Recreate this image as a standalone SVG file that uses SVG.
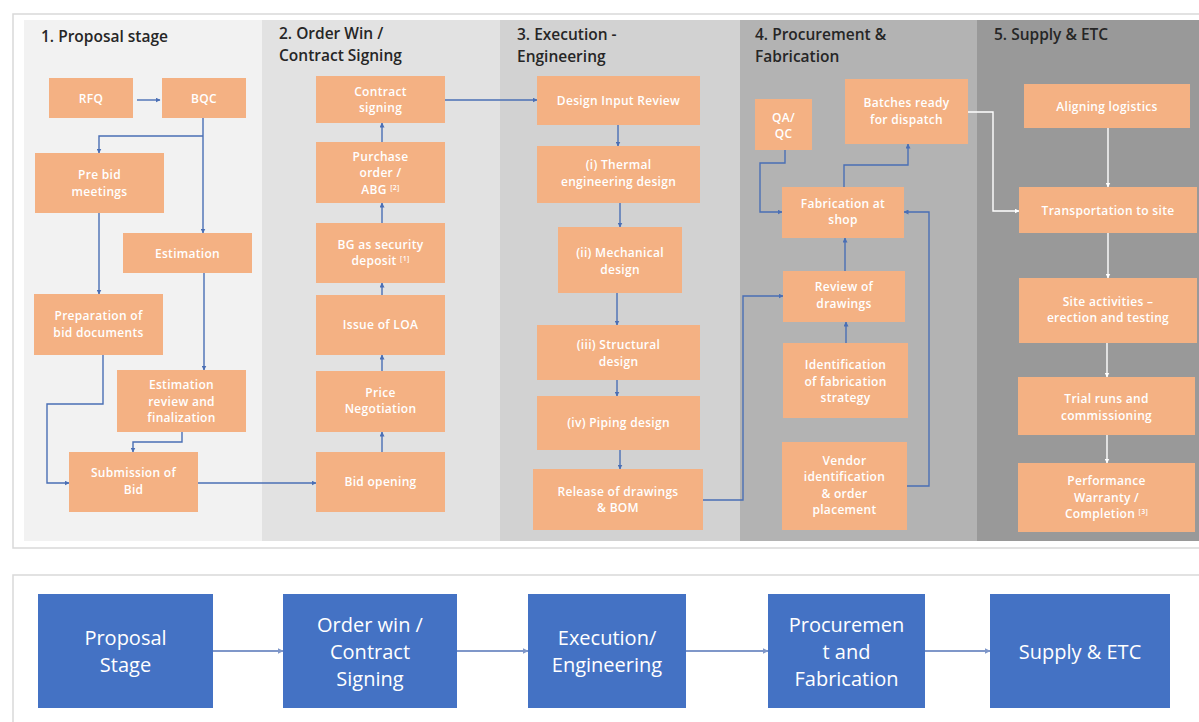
<svg xmlns="http://www.w3.org/2000/svg" width="1199" height="722" viewBox="0 0 1199 722">
<defs>
<marker id="ab" viewBox="0 0 10 10" refX="9" refY="5" markerWidth="5" markerHeight="5" orient="auto" markerUnits="userSpaceOnUse"><path d="M0,0 L10,5 L0,10 z" fill="#4a6fb5"/></marker>
<marker id="aw" viewBox="0 0 10 10" refX="9" refY="5" markerWidth="5" markerHeight="5" orient="auto" markerUnits="userSpaceOnUse"><path d="M0,0 L10,5 L0,10 z" fill="#ffffff"/></marker>
<marker id="ag" viewBox="0 0 10 10" refX="9" refY="5" markerWidth="6" markerHeight="6" orient="auto" markerUnits="userSpaceOnUse"><path d="M0,0 L10,5 L0,10 z" fill="#7f97c9"/></marker>
<style>
.n rect{fill:#f4b183}
.n text{fill:#ffffff;font-family:"Open Sans","Liberation Sans",sans-serif;font-size:12px;font-weight:600;text-anchor:middle;letter-spacing:0.3px}
.t{fill:#262626;font-family:"Open Sans","Liberation Sans",sans-serif;font-size:15.5px;font-weight:600}
.c path{fill:none;stroke:#4a6fb5;stroke-width:1.4;marker-end:url(#ab)}
.c path.w{stroke:#ffffff;marker-end:url(#aw)}
.c path.g{stroke:#7f97c9;stroke-width:1.8;marker-end:url(#ag)}
.b rect{fill:#4472c4}
.b text{fill:#ffffff;font-family:"Open Sans","Liberation Sans",sans-serif;font-size:20px;text-anchor:middle}
sup{font-size:7px}
</style>
</defs>
<rect width="1199" height="722" fill="#ffffff"/>
<!-- top panel -->
<rect x="13" y="14" width="1200" height="534" fill="#ffffff" stroke="#d9d9d9" stroke-width="1.5"/>
<rect x="24" y="20" width="238" height="521" fill="#f2f2f2"/>
<rect x="262" y="20" width="238" height="521" fill="#e2e2e2"/>
<rect x="500" y="20" width="240" height="521" fill="#d2d2d2"/>
<rect x="740" y="20" width="237" height="521" fill="#b3b3b3"/>
<rect x="977" y="20" width="222" height="521" fill="#999999"/>
<text class="t" x="41" y="42">1. Proposal stage</text>
<text class="t" x="279" y="39">2. Order Win /</text>
<text class="t" x="279" y="61">Contract Signing</text>
<text class="t" x="517" y="40">3. Execution -</text>
<text class="t" x="517" y="62">Engineering</text>
<text class="t" x="755" y="40">4. Procurement &amp;</text>
<text class="t" x="755" y="62">Fabrication</text>
<text class="t" x="994" y="40">5. Supply &amp; ETC</text>

<g class="c" id="connectors">
<path d="M137,100 H160"/>
<path d="M203,118 V233"/>
<path d="M203,136 H99 V153"/>
<path d="M99,213 V294"/>
<path d="M204,273 V370"/>
<path d="M103,355 V404 H47 V483 H69"/>
<path d="M182,432 V442 H133 V452"/>
<path d="M198,483 H316"/>
<path d="M382,452 V432"/>
<path d="M382,371 V355"/>
<path d="M382,295 V283"/>
<path d="M382,223 V203"/>
<path d="M382,142 V123"/>
<path d="M445,100 H537"/>
<path d="M618,125 V146"/>
<path d="M620,203 V227"/>
<path d="M617,293 V325"/>
<path d="M617,380 V396"/>
<path d="M620,450 V469"/>
<path d="M703,500 H743 V296 H783"/>
<path d="M785,150 V163 H760 V212 H782"/>
<path d="M844,187 V165 H908 V144"/>
<path d="M845,271 V238"/>
<path d="M846,343 V322"/>
<path d="M907,486 H929 V212 H904"/>
<path class="w" d="M968,112 H993 V211 H1019"/>
<path class="w" d="M1108,128 V187"/>
<path class="w" d="M1108,233 V278"/>
<path class="w" d="M1107,343 V377"/>
<path class="w" d="M1107,435 V463"/>
<path class="g" d="M213,651 H283"/>
<path class="g" d="M457,651 H528"/>
<path class="g" d="M686,651 H768"/>
<path class="g" d="M925,651 H990"/>
</g>

<g class="n" id="rfq"><rect x="49" y="78" width="84" height="40"/><text x="91" y="102.5">RFQ</text></g>
<g class="n" id="bqc"><rect x="162" y="78" width="84" height="40"/><text x="204" y="102.5">BQC</text></g>
<g class="n" id="prebid"><rect x="35" y="153" width="129" height="60"/><text x="99.5" y="179">Pre bid</text><text x="99.5" y="196">meetings</text></g>
<g class="n" id="estimation"><rect x="123" y="233" width="129" height="40"/><text x="187.5" y="257.5">Estimation</text></g>
<g class="n" id="preparation"><rect x="34" y="294" width="129" height="61"/><text x="98.5" y="320">Preparation of</text><text x="98.5" y="337">bid documents</text></g>
<g class="n" id="estreview"><rect x="117" y="370" width="129" height="62"/><text x="181.5" y="389">Estimation</text><text x="181.5" y="405.5">review and</text><text x="181.5" y="422">finalization</text></g>
<g class="n" id="submission"><rect x="69" y="452" width="129" height="60"/><text x="133.5" y="477">Submission of</text><text x="133.5" y="494">Bid</text></g>

<g class="n" id="contract"><rect x="316" y="76" width="129" height="47"/><text x="380.5" y="96">Contract</text><text x="380.5" y="112">signing</text></g>
<g class="n" id="purchase"><rect x="316" y="142" width="129" height="61"/><text x="380.5" y="161">Purchase</text><text x="380.5" y="177">order /</text><text x="380.5" y="194">ABG <tspan font-size="7" dy="-4">[2]</tspan></text></g>
<g class="n" id="bg"><rect x="316" y="223" width="129" height="60"/><text x="380.5" y="249">BG as security</text><text x="380.5" y="265">deposit <tspan font-size="7" dy="-4">[1]</tspan></text></g>
<g class="n" id="loa"><rect x="316" y="295" width="129" height="60"/><text x="380.5" y="329">Issue of LOA</text></g>
<g class="n" id="price"><rect x="316" y="371" width="129" height="61"/><text x="380.5" y="397">Price</text><text x="380.5" y="413">Negotiation</text></g>
<g class="n" id="bidopening"><rect x="316" y="452" width="129" height="60"/><text x="380.5" y="486">Bid opening</text></g>

<g class="n" id="designinput"><rect x="537" y="76" width="163" height="49"/><text x="618.5" y="105">Design Input Review</text></g>
<g class="n" id="thermal"><rect x="537" y="146" width="163" height="57"/><text x="618.5" y="169">(i) Thermal</text><text x="618.5" y="186">engineering design</text></g>
<g class="n" id="mechanical"><rect x="558" y="227" width="124" height="66"/><text x="620" y="257">(ii) Mechanical</text><text x="620" y="274">design</text></g>
<g class="n" id="structural"><rect x="537" y="325" width="163" height="55"/><text x="618.5" y="349">(iii) Structural</text><text x="618.5" y="366">design</text></g>
<g class="n" id="piping"><rect x="537" y="396" width="163" height="54"/><text x="618.5" y="426.5">(iv) Piping design</text></g>
<g class="n" id="release"><rect x="533" y="469" width="170" height="61"/><text x="618" y="496">Release of drawings</text><text x="618" y="512">&amp; BOM</text></g>

<g class="n" id="qaqc"><rect x="755" y="99" width="57" height="51"/><text x="783.5" y="122">QA/</text><text x="783.5" y="138">QC</text></g>
<g class="n" id="batches"><rect x="845" y="79" width="123" height="65"/><text x="906.5" y="107">Batches ready</text><text x="906.5" y="124">for dispatch</text></g>
<g class="n" id="fabrication"><rect x="782" y="187" width="122" height="51"/><text x="843" y="208">Fabrication at</text><text x="843" y="224">shop</text></g>
<g class="n" id="reviewdrawings"><rect x="783" y="271" width="122" height="51"/><text x="844" y="291">Review of</text><text x="844" y="308">drawings</text></g>
<g class="n" id="identification"><rect x="783" y="343" width="125" height="75"/><text x="845.5" y="369">Identification</text><text x="845.5" y="386">of fabrication</text><text x="845.5" y="402">strategy</text></g>
<g class="n" id="vendor"><rect x="782" y="442" width="125" height="88"/><text x="844.5" y="465">Vendor</text><text x="844.5" y="481">identification</text><text x="844.5" y="498">&amp; order</text><text x="844.5" y="514">placement</text></g>

<g class="n" id="aligning"><rect x="1024" y="84" width="166" height="44"/><text x="1107" y="111">Aligning logistics</text></g>
<g class="n" id="transport"><rect x="1019" y="187" width="178" height="46"/><text x="1108" y="215">Transportation to site</text></g>
<g class="n" id="site"><rect x="1019" y="278" width="178" height="65"/><text x="1108" y="306">Site activities –</text><text x="1108" y="322">erection and testing</text></g>
<g class="n" id="trial"><rect x="1018" y="377" width="177" height="58"/><text x="1106.5" y="403">Trial runs and</text><text x="1106.5" y="420">commissioning</text></g>
<g class="n" id="performance"><rect x="1018" y="463" width="177" height="69"/><text x="1106.5" y="485">Performance</text><text x="1106.5" y="502">Warranty /</text><text x="1106.5" y="518">Completion <tspan font-size="7" dy="-4">[3]</tspan></text></g>

<!-- bottom panel -->
<rect x="13" y="575" width="1200" height="160" fill="none" stroke="#d9d9d9" stroke-width="1.5"/>
<g class="b" id="b1"><rect x="38" y="594" width="175" height="114"/><text x="125.5" y="645">Proposal</text><text x="125.5" y="672">Stage</text></g>
<g class="b" id="b2"><rect x="283" y="594" width="174" height="114"/><text x="370" y="632">Order win /</text><text x="370" y="659">Contract</text><text x="370" y="686">Signing</text></g>
<g class="b" id="b3"><rect x="528" y="594" width="158" height="114"/><text x="607" y="645">Execution/</text><text x="607" y="672">Engineering</text></g>
<g class="b" id="b4"><rect x="768" y="594" width="157" height="114"/><text x="846.5" y="632">Procuremen</text><text x="846.5" y="659">t and</text><text x="846.5" y="686">Fabrication</text></g>
<g class="b" id="b5"><rect x="990" y="594" width="180" height="114"/><text x="1080" y="659">Supply &amp; ETC</text></g>
</svg>
